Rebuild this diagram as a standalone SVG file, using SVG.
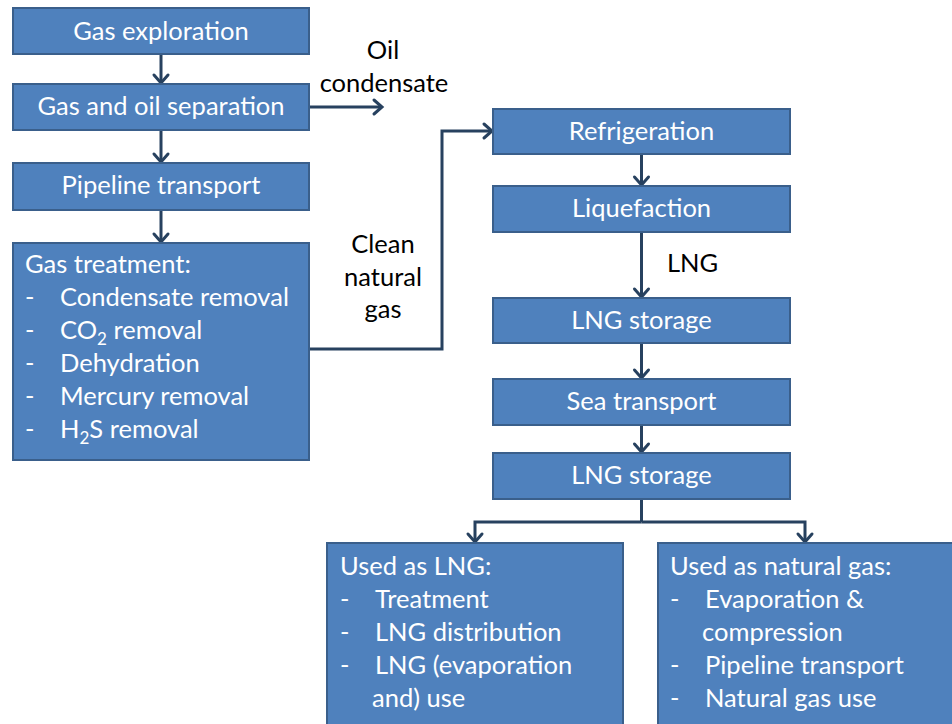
<svg xmlns="http://www.w3.org/2000/svg" width="952" height="724" viewBox="0 0 952 724">
<defs>
<style>
.box{fill:#4f81bd;stroke:#3a5f8b;stroke-width:2}
.t{font-family:Lato,"Open Sans","Liberation Sans",sans-serif;font-size:25.5px;fill:#ffffff}
.c{text-anchor:middle}
.lbl{font-family:Lato,"Open Sans","Liberation Sans",sans-serif;font-size:25.5px;fill:#000000}
.con{fill:none;stroke:#27415f;stroke-width:3;stroke-linejoin:miter}
.sub{font-size:17px}
</style>
<marker id="ah" markerUnits="userSpaceOnUse" markerWidth="20" markerHeight="20" refX="0" refY="0" viewBox="-10 -10 20 20" orient="auto" overflow="visible">
<path d="M-8,-7 L0,0 L-8,7" fill="none" stroke="#27415f" stroke-width="3" stroke-linecap="round" stroke-linejoin="miter"/>
</marker>
</defs>
<rect width="952" height="724" fill="#ffffff"/>

<g id="connectors">
<path class="con" d="M161,54 V83" marker-end="url(#ah)"/>
<path class="con" d="M161,130 V162" marker-end="url(#ah)"/>
<path class="con" d="M161,210 V242" marker-end="url(#ah)"/>
<path class="con" d="M309,107 H382" marker-end="url(#ah)"/>
<path class="con" d="M309,349 H442 V131 H492" marker-end="url(#ah)"/>
<path class="con" d="M641.5,154 V185" marker-end="url(#ah)"/>
<path class="con" d="M641.5,232 V297" marker-end="url(#ah)"/>
<path class="con" d="M641.5,343 V378" marker-end="url(#ah)"/>
<path class="con" d="M641.5,425 V452" marker-end="url(#ah)"/>
<path class="con" d="M641.5,499 V522"/>
<path class="con" d="M641.5,522 H475 V542" marker-end="url(#ah)"/>
<path class="con" d="M641.5,522 H805 V542" marker-end="url(#ah)"/>
<text class="lbl c" x="383" y="59">Oil</text>
<text class="lbl c" x="384" y="92">condensate</text>
<text class="lbl c" x="383" y="253">Clean</text>
<text class="lbl c" x="383" y="286">natural</text>
<text class="lbl c" x="383" y="318">gas</text>
<text class="lbl" x="667" y="272">LNG</text>
</g>

<g id="gas-exploration">
<rect class="box" x="13" y="8" width="296" height="46"/>
<text class="t c" x="161" y="40">Gas exploration</text>
</g>
<g id="gas-oil-separation">
<rect class="box" x="13" y="84" width="296" height="46"/>
<text class="t c" x="161" y="115">Gas and oil separation</text>
</g>
<g id="pipeline-transport">
<rect class="box" x="13" y="163" width="296" height="47"/>
<text class="t c" x="161" y="194">Pipeline transport</text>
</g>
<g id="gas-treatment">
<rect class="box" x="13" y="243" width="296" height="217"/>
<text class="t"><tspan x="25" y="273">Gas treatment:</tspan></text>
<text class="t"><tspan x="25" y="306">-</tspan><tspan x="60" y="306">Condensate removal</tspan></text>
<text class="t"><tspan x="25" y="339">-</tspan><tspan x="60" y="339">CO</tspan><tspan class="sub" dy="6">2</tspan><tspan dy="-6"> removal</tspan></text>
<text class="t"><tspan x="25" y="372">-</tspan><tspan x="60" y="372">Dehydration</tspan></text>
<text class="t"><tspan x="25" y="405">-</tspan><tspan x="60" y="405">Mercury removal</tspan></text>
<text class="t"><tspan x="25" y="438">-</tspan><tspan x="60" y="438">H</tspan><tspan class="sub" dy="6">2</tspan><tspan dy="-6">S removal</tspan></text>
</g>

<g id="refrigeration">
<rect class="box" x="493" y="109" width="297" height="45"/>
<text class="t c" x="641.5" y="140">Refrigeration</text>
</g>
<g id="liquefaction">
<rect class="box" x="493" y="186" width="297" height="46"/>
<text class="t c" x="641.5" y="217">Liquefaction</text>
</g>
<g id="lng-storage-1">
<rect class="box" x="493" y="298" width="297" height="45"/>
<text class="t c" x="641.5" y="329">LNG storage</text>
</g>
<g id="sea-transport">
<rect class="box" x="493" y="379" width="297" height="46"/>
<text class="t c" x="641.5" y="410">Sea transport</text>
</g>
<g id="lng-storage-2">
<rect class="box" x="493" y="453" width="297" height="46"/>
<text class="t c" x="641.5" y="484">LNG storage</text>
</g>

<g id="used-as-lng">
<rect class="box" x="327" y="543" width="296" height="200"/>
<text class="t"><tspan x="340" y="575">Used as LNG:</tspan></text>
<text class="t"><tspan x="340" y="608">-</tspan><tspan x="375" y="608">Treatment</tspan></text>
<text class="t"><tspan x="340" y="641">-</tspan><tspan x="375" y="641">LNG distribution</tspan></text>
<text class="t"><tspan x="340" y="674">-</tspan><tspan x="375" y="674">LNG (evaporation</tspan></text>
<text class="t"><tspan x="372" y="707">and) use</tspan></text>
</g>
<g id="used-as-natural-gas">
<rect class="box" x="658" y="543" width="300" height="200"/>
<text class="t"><tspan x="670" y="575">Used as natural gas:</tspan></text>
<text class="t"><tspan x="670" y="608">-</tspan><tspan x="705" y="608">Evaporation &amp;</tspan></text>
<text class="t"><tspan x="702" y="641">compression</tspan></text>
<text class="t"><tspan x="670" y="674">-</tspan><tspan x="705" y="674">Pipeline transport</tspan></text>
<text class="t"><tspan x="670" y="707">-</tspan><tspan x="705" y="707">Natural gas use</tspan></text>
</g>
</svg>
